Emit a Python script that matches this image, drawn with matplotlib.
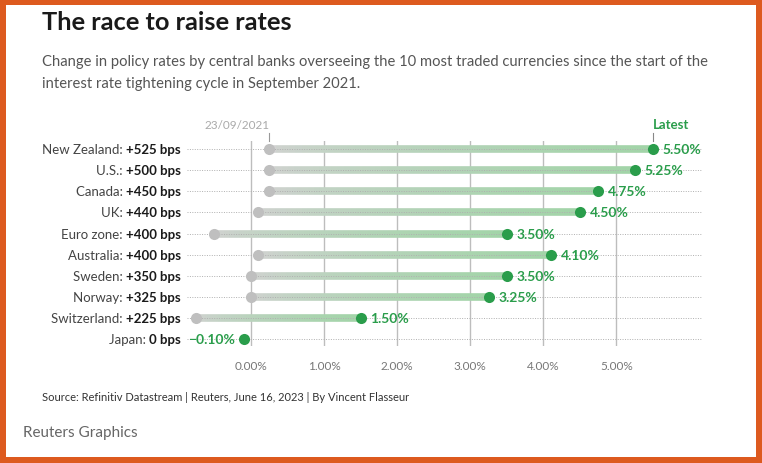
import numpy as np
import matplotlib
matplotlib.use('Agg')
import matplotlib.pyplot as plt
from matplotlib.patches import Rectangle
from matplotlib.collections import LineCollection
from matplotlib.colors import to_rgba

# Policy rates, start of cycle (23/09/2021) and latest
countries = ['New Zealand', 'U.S.', 'Canada', 'UK', 'Euro zone',
             'Australia', 'Sweden', 'Norway', 'Switzerland', 'Japan']
changes = ['+525 bps', '+500 bps', '+450 bps', '+440 bps', '+400 bps',
           '+400 bps', '+350 bps', '+325 bps', '+225 bps', '0 bps']
start_rates = [0.25, 0.25, 0.25, 0.10, -0.50, 0.10, 0.00, 0.00, -0.75, -0.10]
latest_rates = [5.50, 5.25, 4.75, 4.50, 3.50, 4.10, 3.50, 3.25, 1.50, -0.10]
x_ticks = [0, 1, 2, 3, 4, 5]
x_tick_labels = ['0.00%', '1.00%', '2.00%', '3.00%', '4.00%', '5.00%']

GREEN = '#2a9d4b'
BAR_GREEN = '#a2d4a8'
GRAY_DOT = '#bfbfbf'
BAR_GRAY = '#d2d2d2'
ORANGE = '#dd5a1f'

plt.rcParams['font.family'] = ['Lato', 'DejaVu Sans']

W, H = 762, 464
fig = plt.figure(figsize=(W / 100, H / 100), dpi=100)
fig.patch.set_facecolor(ORANGE)
fig.add_artist(Rectangle((6 / W, 6 / H), (756 - 6) / W, (458 - 6) / H,
                         transform=fig.transFigure, facecolor='white',
                         edgecolor='none', zorder=0))

# header
fig.text(42 / W, 1 - 23 / H, 'The race to raise rates', fontsize=18.3,
         fontweight='bold', color='#1a1a1a', va='center', ha='left')
fig.text(42 / W, 1 - 62 / H,
         'Change in policy rates by central banks overseeing the 10 most traded currencies since the start of the',
         fontsize=10.6, color='#555555', va='center', ha='left')
fig.text(42 / W, 1 - 84 / H,
         'interest rate tightening cycle in September 2021.',
         fontsize=10.6, color='#555555', va='center', ha='left')

# chart area
ax_left, ax_right = 187, 702
ax_top, ax_bottom = 142, 347
ax = fig.add_axes([ax_left / W, 1 - ax_bottom / H,
                   (ax_right - ax_left) / W, (ax_bottom - ax_top) / H])
ax.set_xlim(-0.875, 6.17)
ax.set_ylim(9.33, -0.39)
ax.set_facecolor('none')
for s in ax.spines.values():
    s.set_visible(False)
ax.set_yticks([])
ax.set_xticks(x_ticks)
ax.set_xticklabels(x_tick_labels, fontsize=8.5, color='#777777')
ax.tick_params(axis='x', length=0, pad=10)
for t in x_ticks:
    ax.axvline(t, color='#bdbdbd', lw=1, zorder=1)

rows = np.arange(len(countries))

# dotted row guides
for r in rows:
    ax.plot(ax.get_xlim(), [r, r], color='#b0b0b0', lw=0.7,
            linestyle=(0, (1, 1.5)), zorder=4)

# gradient bars from start to latest
gray_c = np.array(to_rgba(BAR_GRAY))
green_c = np.array(to_rgba(BAR_GREEN))
for r, s, e in zip(rows, start_rates, latest_rates):
    if e == s:
        continue
    xs = np.linspace(s, e, 60)
    segs = [[(xs[i], r), (xs[i + 1], r)] for i in range(len(xs) - 1)]
    frac = np.linspace(0, 1, len(segs)) ** 0.6
    cols = gray_c + (green_c - gray_c) * frac[:, None]
    lc = LineCollection(segs, colors=cols, linewidths=5.5, capstyle='butt',
                        zorder=3)
    ax.add_collection(lc)

# dots
for r, s, e in zip(rows, start_rates, latest_rates):
    if e != s:
        ax.plot(s, r, 'o', color=GRAY_DOT, ms=8, mec='none', zorder=5)
    ax.plot(e, r, 'o', color=GREEN, ms=8, mec='none', zorder=6)

fig.canvas.draw()
renderer = fig.canvas.get_renderer()

label_x_px = 181
for r, c, ch, s, e in zip(rows, countries, changes, start_rates, latest_rates):
    val = f'{e:.2f}%'.replace('-', '\u2212')
    if e < 0:
        ax.annotate(val, xy=(e, r), xytext=(-6, 0), textcoords='offset points',
                    ha='right', va='center', fontsize=10, fontweight='bold',
                    color=GREEN, zorder=7)
    else:
        ax.annotate(val, xy=(e, r), xytext=(7, 0), textcoords='offset points',
                    ha='left', va='center', fontsize=10, fontweight='bold',
                    color=GREEN, zorder=7)
    y_px = ax.transData.transform((0, r))[1]
    bt = fig.text(label_x_px / W, y_px / H, ch, fontsize=9.5, fontweight='bold',
                  color='#1a1a1a', ha='right', va='center')
    fig.canvas.draw()
    x0 = bt.get_window_extent(renderer).x0
    fig.text(x0 / W, y_px / H, c + ': ', fontsize=9.5, color='#444444',
             ha='right', va='center')

# annotations on top
ax.annotate('23/09/2021', xy=(start_rates[0], -0.39), xytext=(0, 8),
            textcoords='offset points', ha='right', va='bottom', fontsize=8.5,
            color='#aaaaaa', annotation_clip=False)
ax.plot([start_rates[0]] * 2, [-0.39, -0.75], color='#999999', lw=0.8,
        clip_on=False)
ax.annotate('Latest', xy=(latest_rates[0], -0.39), xytext=(0, 8),
            textcoords='offset points', ha='left', va='bottom', fontsize=9.5,
            fontweight='bold', color=GREEN, annotation_clip=False)
ax.plot([latest_rates[0]] * 2, [-0.39, -0.75], color='#888888', lw=0.8,
        clip_on=False)

# footer
fig.text(42 / W, 1 - 398 / H,
         'Source: Refinitiv Datastream | Reuters, June 16, 2023 | By Vincent Flasseur',
         fontsize=8, color='#333333', va='center', ha='left')
fig.text(23 / W, 1 - 433 / H, 'Reuters Graphics', fontsize=11,
         color='#666666', va='center', ha='left')

fig.savefig('out.png', dpi=100, facecolor=fig.get_facecolor())
